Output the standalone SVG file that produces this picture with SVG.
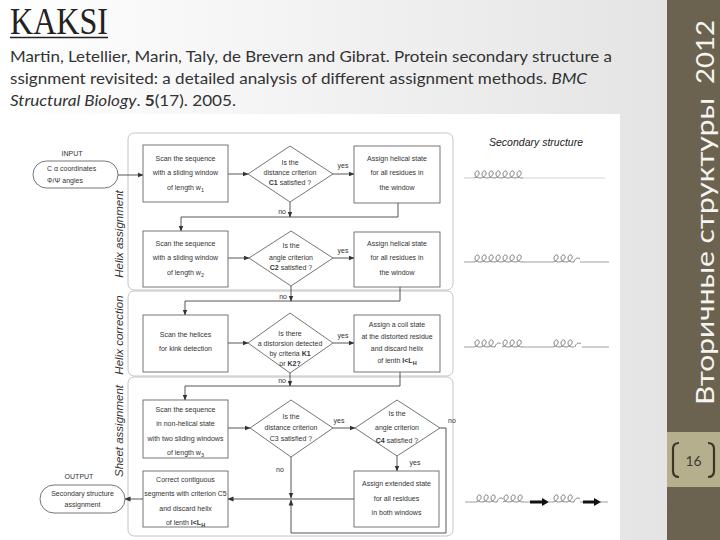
<svg xmlns="http://www.w3.org/2000/svg" xmlns:xlink="http://www.w3.org/1999/xlink" width="720" height="540" viewBox="0 0 720 540">
<defs>
<linearGradient id="bg" x1="0" y1="0" x2="1" y2="0">
<stop offset="0" stop-color="#ffffff"/>
<stop offset="1" stop-color="#e2e2e2"/>
</linearGradient>
<marker id="ah" markerWidth="6" markerHeight="6" refX="5.5" refY="3" orient="auto" markerUnits="userSpaceOnUse">
<path d="M0,0.6 L6,3 L0,5.4z" fill="#333"/>
</marker>
<path id="coil" d="M0,0 c3,-1 6,-3 5,-6 c-1,-2 -4,-1 -4,2 c0,3 2,4 6,4"/>
<path id="hook" d="M0,0 c1,-4 4,-5 6,-3"/>
<style>
.t{font-family:"Liberation Sans",Arial,sans-serif;font-size:7px;fill:#333;text-anchor:middle}
.b{font-weight:bold}
.sec{font-family:"Liberation Sans",Arial,sans-serif;font-size:11.5px;font-style:italic;fill:#333;text-anchor:middle}
.box{fill:#fff;stroke:#666;stroke-width:0.9}
.pan{fill:none;stroke:#c4c4c4;stroke-width:1}
.con{fill:none;stroke:#444;stroke-width:0.9}
.arr{fill:none;stroke:#444;stroke-width:0.9;marker-end:url(#ah)}
.ss{fill:none;stroke:#666;stroke-width:0.8}
.ssl{fill:none;stroke:#888;stroke-width:0.8}
.cite{font-family:Lato,"Open Sans",sans-serif;font-size:15px;fill:#333}
</style>
</defs>

<!-- slide background -->
<rect x="0" y="0" width="720" height="540" fill="url(#bg)"/>
<rect x="4" y="114" width="616" height="426" fill="#ffffff"/>

<!-- title and citation -->
<g id="title">
<text x="10" y="34" font-family="'Liberation Serif',serif" font-size="38" fill="#222" textLength="98" lengthAdjust="spacingAndGlyphs">KAKSI</text>
<line x1="10" y1="37.5" x2="108" y2="37.5" stroke="#222" stroke-width="1.6"/>
</g>
<g id="citation">
<text class="cite" x="10" y="62" textLength="602" lengthAdjust="spacingAndGlyphs">Martin, Letellier, Marin, Taly, de Brevern and Gibrat. Protein secondary structure a</text>
<text class="cite" x="10" y="84" textLength="577" lengthAdjust="spacingAndGlyphs">ssignment revisited: a detailed analysis of different assignment methods. <tspan font-style="italic">BMC</tspan></text>
<text class="cite" x="10" y="106" textLength="226" lengthAdjust="spacingAndGlyphs"><tspan font-style="italic">Structural Biology</tspan>. <tspan font-weight="bold">5</tspan>(17). 2005.</text>
</g>

<!-- sidebar -->
<g id="sidebar">
<rect x="667" y="0" width="53" height="540" fill="#6b634f"/>
<rect x="667" y="432" width="53" height="55" fill="#b6af8e"/>
<text transform="translate(714,405) rotate(-90)" font-family="Lato,'Open Sans',sans-serif" font-size="25" fill="#f4f4f0" textLength="307" lengthAdjust="spacingAndGlyphs">Вторичные структуры</text>
<text transform="translate(714,84) rotate(-90)" font-family="Lato,'Open Sans',sans-serif" font-size="25" fill="#f4f4f0" textLength="64" lengthAdjust="spacingAndGlyphs">2012</text>
<path d="M679,443 Q673,443 673,449 L673,471 Q673,477 679,477" fill="none" stroke="#3b3626" stroke-width="2.2"/>
<path d="M708,443 Q714,443 714,449 L714,471 Q714,477 708,477" fill="none" stroke="#3b3626" stroke-width="2.2"/>
<text x="693.5" y="466" font-family="Lato,'Open Sans',sans-serif" font-size="14" fill="#3f3c33" text-anchor="middle">16</text>
</g>

<!-- panels -->
<g id="panels">
<rect class="pan" x="128" y="133" width="325" height="157" rx="6"/>
<rect class="pan" x="128" y="291" width="325" height="85" rx="6"/>
<rect class="pan" x="128" y="377" width="325" height="159" rx="6"/>
<text class="sec" transform="translate(123,234) rotate(-90)">Helix assignment</text>
<text class="sec" transform="translate(123,335) rotate(-90)">Helix correction</text>
<text class="sec" transform="translate(123,431) rotate(-90)">Sheet assignment</text>
</g>

<!-- connectors -->
<g id="connectors">
<line class="arr" x1="118" y1="175" x2="143" y2="175"/>
<line class="arr" x1="228" y1="174" x2="248" y2="174"/>
<line class="arr" x1="333" y1="174" x2="354" y2="174"/>
<polyline class="arr" points="398,203 398,217 181,217 181,231"/>
<line class="arr" x1="290" y1="202" x2="290" y2="217"/>

<line class="arr" x1="228" y1="258" x2="249" y2="258"/>
<line class="arr" x1="333" y1="258" x2="354" y2="258"/>
<polyline class="arr" points="400,287 400,301 185,301 185,315"/>
<line class="arr" x1="291" y1="286" x2="291" y2="301"/>

<line class="arr" x1="228" y1="343" x2="248" y2="343"/>
<line class="arr" x1="333" y1="343" x2="354" y2="343"/>
<polyline class="arr" points="400,372 400,386 185,386 185,400"/>
<line class="arr" x1="290" y1="373" x2="290" y2="386"/>

<line class="arr" x1="228" y1="428" x2="250" y2="428"/>
<line class="arr" x1="333" y1="428" x2="355" y2="428"/>
<line class="arr" x1="397" y1="456" x2="397" y2="471"/>
<polyline class="arr" points="354,499 228,499"/>
<line class="arr" x1="291" y1="457" x2="291" y2="498"/>
<polyline class="arr" points="440,428 446,428 446,533 291,533 291,500"/>
<line class="arr" x1="143" y1="499" x2="125" y2="499"/>

<text class="t" x="343" y="167.5">yes</text>
<text class="t" x="286" y="213.5" style="text-anchor:end">no</text>
<text class="t" x="343" y="252.5">yes</text>
<text class="t" x="287" y="298.5" style="text-anchor:end">no</text>
<text class="t" x="343" y="337.5">yes</text>
<text class="t" x="286" y="382.5" style="text-anchor:end">no</text>
<text class="t" x="339" y="422.5">yes</text>
<text class="t" x="452" y="422.5">no</text>
<text class="t" x="415" y="464.5">yes</text>
<text class="t" x="280" y="471.5">no</text>
</g>

<!-- nodes -->
<g id="input">
<text class="t" x="72" y="156">INPUT</text>
<rect class="box" x="33" y="161" width="85" height="27" rx="13.5"/>
<text class="t" x="47" y="170.5" style="text-anchor:start">C α coordinates</text>
<text class="t" x="47" y="182.5" style="text-anchor:start">Φ/Ψ angles</text>
</g>

<g id="scan1">
<rect class="box" x="143" y="145" width="85" height="57"/>
<text class="t" x="185.5" y="160.5">Scan the sequence</text>
<text class="t" x="185.5" y="174.5">with a sliding window</text>
<text class="t" x="185.5" y="189.5">of length w<tspan dy="2" font-size="5.5">1</tspan></text>
</g>
<g id="crit1">
<polygon class="box" points="248,174 290,146 333,174 290,202"/>
<text class="t" x="290" y="164.5">Is the</text>
<text class="t" x="290" y="174.5">distance criterion</text>
<text class="t" x="290" y="184.5"><tspan class="b">C1</tspan> satisfied ?</text>
</g>
<g id="assign1">
<rect class="box" x="354" y="146" width="86" height="57"/>
<text class="t" x="397" y="160.5">Assign helical state</text>
<text class="t" x="397" y="174.5">for all residues in</text>
<text class="t" x="397" y="189.5">the window</text>
</g>

<g id="scan2">
<rect class="box" x="143" y="231" width="85" height="56"/>
<text class="t" x="185.5" y="245.5">Scan the sequence</text>
<text class="t" x="185.5" y="259.5">with a sliding window</text>
<text class="t" x="185.5" y="274.5">of length w<tspan dy="2" font-size="5.5">2</tspan></text>
</g>
<g id="crit2">
<polygon class="box" points="249,258 291,231 333,258 291,286"/>
<text class="t" x="291" y="247.5">Is the</text>
<text class="t" x="291" y="259.5">angle criterion</text>
<text class="t" x="291" y="269.5"><tspan class="b">C2</tspan> satisfied ?</text>
</g>
<g id="assign2">
<rect class="box" x="354" y="232" width="86" height="55"/>
<text class="t" x="397" y="245.5">Assign helical state</text>
<text class="t" x="397" y="259.5">for all residues in</text>
<text class="t" x="397" y="274.5">the window</text>
</g>

<g id="kink">
<rect class="box" x="143" y="315" width="85" height="57"/>
<text class="t" x="185.5" y="336.5">Scan the helices</text>
<text class="t" x="185.5" y="350.5">for kink detection</text>
</g>
<g id="crit3">
<polygon class="box" points="248,343 290,313 333,343 290,373"/>
<text class="t" x="290" y="335.5">Is there</text>
<text class="t" x="290" y="345.5">a distorsion detected</text>
<text class="t" x="290" y="356">by criteria <tspan class="b">K1</tspan></text>
<text class="t" x="290" y="365.5">or <tspan class="b">K2?</tspan></text>
</g>
<g id="coil-assign">
<rect class="box" x="354" y="315" width="86" height="57"/>
<text class="t" x="397" y="326.5">Assign a coil state</text>
<text class="t" x="397" y="338.5">at the distorted residue</text>
<text class="t" x="397" y="350.5">and discard helix</text>
<text class="t" x="397" y="362.5">of lenth <tspan class="b">l&lt;L</tspan><tspan dy="2" font-size="5.5" class="b">H</tspan></text>
</g>

<g id="scan3">
<rect class="box" x="143" y="400" width="85" height="58"/>
<text class="t" x="185.5" y="411.5">Scan the sequence</text>
<text class="t" x="185.5" y="425.5">in non-helical state</text>
<text class="t" x="185.5" y="440.5">with two sliding windows</text>
<text class="t" x="185.5" y="454.5">of length w<tspan dy="2" font-size="5.5">3</tspan></text>
</g>
<g id="crit4">
<polygon class="box" points="250,428 291,400 333,428 291,457"/>
<text class="t" x="291" y="418.5">Is the</text>
<text class="t" x="291" y="429.5">distance criterion</text>
<text class="t" x="291" y="440.5">C3 satisfied ?</text>
</g>
<g id="crit5">
<polygon class="box" points="355,428 397,400 440,428 397,456"/>
<text class="t" x="397" y="415.5">Is the</text>
<text class="t" x="397" y="429.5">angle criterion</text>
<text class="t" x="397" y="442.5"><tspan class="b">C4</tspan> satisfied ?</text>
</g>
<g id="extended">
<rect class="box" x="354" y="471" width="85" height="56"/>
<text class="t" x="396.5" y="485.5">Assign extended state</text>
<text class="t" x="396.5" y="500.5">for all residues</text>
<text class="t" x="396.5" y="514.5">in both windows</text>
</g>
<g id="correct">
<rect class="box" x="143" y="471" width="85" height="56"/>
<text class="t" x="185.5" y="481.5">Correct contiguous</text>
<text class="t" x="185.5" y="495.5">segments with criterion C5</text>
<text class="t" x="185.5" y="510.5">and discard helix</text>
<text class="t" x="185.5" y="524.5">of lenth  <tspan class="b">l&lt;L</tspan><tspan dy="2" font-size="5.5" class="b">H</tspan></text>
</g>
<g id="output">
<text class="t" x="79" y="478.5">OUTPUT</text>
<rect class="box" x="40" y="485" width="85" height="28" rx="14"/>
<text class="t" x="82.5" y="496">Secondary structure</text>
<text class="t" x="82.5" y="507">assignment</text>
</g>

<!-- secondary structure column -->
<g id="secondary-structure">
<text x="536" y="146" font-family="'Liberation Sans',Arial,sans-serif" font-size="10.5" font-style="italic" fill="#222" text-anchor="middle">Secondary structure</text>
<g class="ss">
<line x1="464" y1="178" x2="474" y2="178" stroke="#bbb"/>
<line x1="523" y1="178" x2="605" y2="178" stroke="#ccc"/>
<use href="#coil" x="474" y="178"/><use href="#coil" x="481" y="178"/><use href="#coil" x="488" y="178"/><use href="#coil" x="495" y="178"/><use href="#coil" x="502" y="178"/><use href="#coil" x="509" y="178"/><use href="#coil" x="516" y="178"/>
</g>
<g class="ss">
<line class="ssl" x1="464" y1="262" x2="474" y2="262"/>
<line class="ssl" x1="523" y1="262" x2="553" y2="262"/>
<line class="ssl" x1="580" y1="262" x2="609" y2="262"/>
<use href="#coil" x="474" y="262"/><use href="#coil" x="481" y="262"/><use href="#coil" x="488" y="262"/><use href="#coil" x="495" y="262"/><use href="#coil" x="502" y="262"/><use href="#coil" x="509" y="262"/><use href="#coil" x="516" y="262"/>
<use href="#coil" x="553" y="262"/><use href="#coil" x="560" y="262"/><use href="#coil" x="567" y="262"/><use href="#hook" x="574" y="262"/>
</g>
<g class="ss">
<line class="ssl" x1="464" y1="347" x2="474" y2="347"/>
<line class="ssl" x1="523" y1="347" x2="553" y2="347"/>
<line class="ssl" x1="582" y1="347" x2="609" y2="347"/>
<use href="#coil" x="474" y="347"/><use href="#coil" x="481" y="347"/><use href="#coil" x="488" y="347"/><use href="#hook" x="495" y="347"/>
<use href="#coil" x="502" y="347"/><use href="#coil" x="509" y="347"/><use href="#coil" x="516" y="347"/>
<use href="#coil" x="553" y="347"/><use href="#coil" x="560" y="347"/><use href="#coil" x="567" y="347"/><use href="#hook" x="575" y="347"/>
</g>
<g class="ss">
<line class="ssl" x1="465" y1="502" x2="476" y2="502"/>
<line class="ssl" x1="524" y1="502" x2="530" y2="502"/>
<line class="ssl" x1="549" y1="502" x2="553" y2="502"/>
<line class="ssl" x1="580" y1="502" x2="583" y2="502"/>
<line class="ssl" x1="600" y1="502" x2="608" y2="502"/>
<use href="#coil" x="476" y="502"/><use href="#coil" x="483" y="502"/><use href="#coil" x="490" y="502"/><use href="#hook" x="497" y="502"/>
<use href="#coil" x="503" y="502"/><use href="#coil" x="510" y="502"/><use href="#coil" x="517" y="502"/>
<use href="#coil" x="553" y="502"/><use href="#coil" x="560" y="502"/><use href="#coil" x="567" y="502"/><use href="#hook" x="574" y="502"/>
</g>
<polygon points="530,500.6 542,500.6 542,498 549,502 542,506 542,503.4 530,503.4" fill="#111"/>
<polygon points="583,500.6 594,500.6 594,498 601,502 594,506 594,503.4 583,503.4" fill="#111"/>
</g>
</svg>
